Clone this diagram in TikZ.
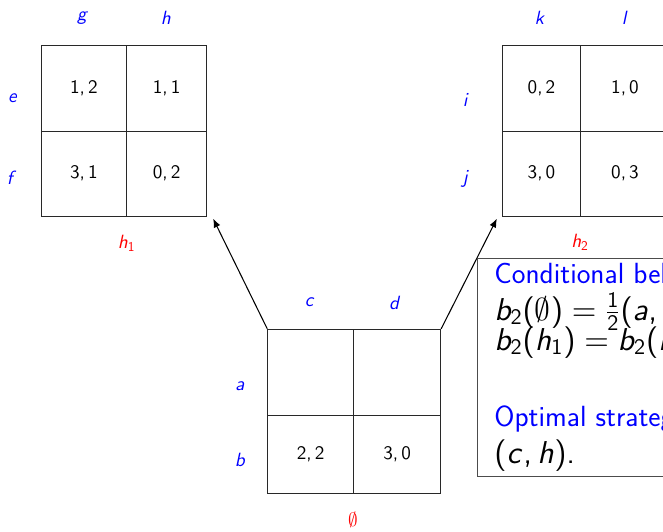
\documentclass[tikz,border=0pt]{standalone}
\renewcommand{\familydefault}{\sfdefault}
\usetikzlibrary{positioning, arrows.meta, calc}
\definecolor{LabelBlue}{RGB}{0, 0, 255}
\definecolor{HistRed}{RGB}{255, 0, 0}
\definecolor{GridGray}{RGB}{40, 40, 40}

% sans serif math, slide style
\DeclareFontFamily{OT1}{slidess}{\hyphenchar\font45}
\DeclareFontShape{OT1}{slidess}{m}{n}{<-> cmss10}{}
\DeclareFontShape{OT1}{slidess}{m}{sl}{<-> cmssi10}{}
\DeclareFontShape{OMS}{cmsy}{m}{n}{<-> cmsy10}{}
\DeclareSymbolFont{sfupright}{OT1}{slidess}{m}{n}
\DeclareSymbolFont{sfslanted}{OT1}{slidess}{m}{sl}
\newcount\sfchar
\sfchar=`a
\loop
  \mathcode\sfchar=\numexpr "7000+\symsfslanted*"100+\sfchar\relax
  \ifnum\sfchar<`z \advance\sfchar by 1 \repeat
\sfchar=`0
\loop
  \mathcode\sfchar=\numexpr "7000+\symsfupright*"100+\sfchar\relax
  \ifnum\sfchar<`9 \advance\sfchar by 1 \repeat
\DeclareMathSymbol{(}{\mathopen}{sfupright}{"28}
\DeclareMathSymbol{)}{\mathclose}{sfupright}{"29}
\DeclareMathSymbol{=}{\mathrel}{sfupright}{"3D}
\DeclareMathSymbol{,}{\mathpunct}{sfupright}{"2C}

\begin{document}
\begin{tikzpicture}[
    cell/.style={draw=GridGray, line width=0.5pt, inner sep=0pt, font=\fontsize{10.9}{13}\selectfont},
    act/.style={text=LabelBlue, inner sep=1pt, font=\fontsize{10.9}{13}\selectfont},
    hist/.style={text=HistRed, inner sep=1pt, font=\fontsize{10.9}{13}\selectfont},
    move/.style={draw=black, line width=0.6pt, -{Latex[length=5pt, width=4pt]}},
    note/.style={anchor=base west, inner sep=0pt, font=\fontsize{16.6}{20}\selectfont},
    notemath/.style={anchor=base west, inner sep=0pt, font=\fontsize{18}{20}\selectfont},
  ]
  \useasboundingbox (0,0) rectangle (13.26,10.62);
  \clip (0,0) rectangle (13.26,10.62);

  % payoff cells: name/x/y/width/height/entry
  \foreach \n/\x/\y/\w/\h/\v in {
      eg/1.677/8.853/1.714cm/1.706cm/{1,2}, eh/3.334/8.853/1.6cm/1.706cm/{1,1},
      fg/1.677/7.143/1.714cm/1.714cm/{3,1}, fh/3.334/7.143/1.6cm/1.714cm/{0,2},
      ik/10.83/8.853/1.568cm/1.706cm/{0,2}, il/12.5/8.853/1.772cm/1.706cm/{1,0},
      jk/10.83/7.143/1.568cm/1.714cm/{3,0}, jl/12.5/7.143/1.772cm/1.714cm/{0,3},
      ac/6.214/3.174/1.72cm/1.72cm/{}, ad/7.944/3.174/1.74cm/1.72cm/{},
      bc/6.214/1.534/1.72cm/1.56cm/{2,2}, bd/7.944/1.534/1.74cm/1.56cm/{3,0}} {
    \node[cell, minimum width=\w, minimum height=\h] (\n) at (\x,\y) {$\v$};
  }

  % actions
  \node[act] (g) at (1.66,10.26) {$g$};
  \node[act] (h) at (3.32,10.26) {$h$};
  \node[act] (e) at (0.26,8.66) {$e$};
  \node[act] (f) at (0.24,7.06) {$f$};
  \node[act] (k) at (10.8,10.26) {$k$};
  \node[act] (l) at (12.5,10.26) {$l$};
  \node[act] (i) at (9.32,8.62) {$i$};
  \node[act] (j) at (9.32,7.04) {$j$};
  \node[act] (c) at (6.2,4.566) {$c$};
  \node[act] (d) at (7.9,4.566) {$d$};
  \node[act] (a) at (4.8,2.886) {$a$};
  \node[act] (b) at (4.8,1.42) {$b$};

  % histories
  \node[hist] (hone) at (2.534,5.76) {$h_1$};
  \node[hist] (htwo) at (11.6,5.78) {$h_2$};
  \node[hist] (root) at (7.06,0.22) {$\emptyset$};

  \draw[move] (ac.north west) -- ($(fh.south east)+(0.12,-0.03)$);
  \draw[move] (ad.north east) -- ($(jk.south west)+(-0.1,-0.03)$);

  % beliefs box
  \node[draw=black!70, fill=white, line width=0.8pt, anchor=north west, inner sep=0pt,
        minimum width=5cm, minimum height=4.35cm] (beliefs) at (9.54,5.46) {};
  \node[note, text=LabelBlue] (condhead) at (9.88,4.96) {Conditional beliefs:};
  \node[notemath] (beliefroot) at (9.88,4.22) {$b_2(\emptyset)=\frac{1}{2}(a,c)$};
  \node[notemath] (beliefh) at (9.88,3.62) {$b_2(h_1)=b_2(h_2)$};
  \node[note, text=LabelBlue] (opthead) at (9.88,2.10) {Optimal strategy:};
  \node[notemath] (optline) at (9.88,1.36) {$(c,h)$.};
\end{tikzpicture}
\end{document}
